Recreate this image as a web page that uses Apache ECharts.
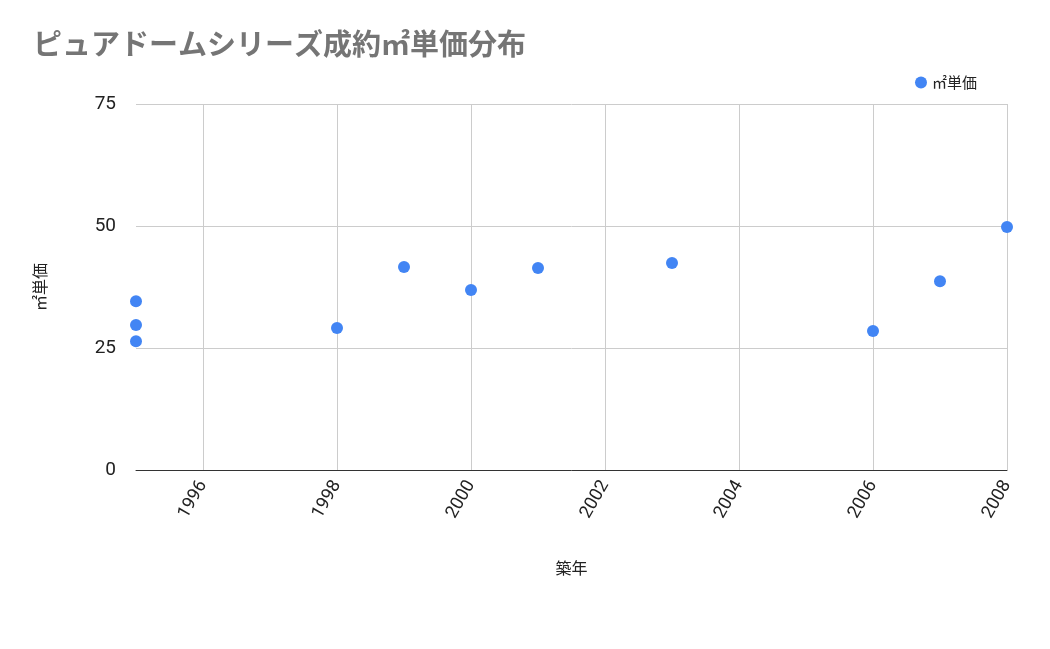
<!DOCTYPE html>
<html><head><meta charset="utf-8">
<script src="https://cdn.jsdelivr.net/npm/echarts@6/dist/echarts.min.js"></script>
<style>html,body{margin:0;background:#fff}#c{width:1050px;height:649px}</style>
</head><body><div id="c"></div>
<script>
var years = [1995, 1995, 1995, 1998, 1999, 2000, 2001, 2003, 2006, 2007, 2008];
var prices = [34.6, 29.7, 26.4, 29.1, 41.6, 36.9, 41.4, 42.4, 28.5, 38.7, 49.8];
var xTicks = [1996, 1998, 2000, 2002, 2004, 2006, 2008];

var pts = [];
for (var i = 0; i < years.length; i++) pts.push([years[i], prices[i]]);

var chart = echarts.init(document.getElementById('c'));
chart.setOption({
  title: {text: 'ピュアドームシリーズ成約㎡単価分布', left: 28, top: 24,
    textStyle: {fontFamily: 'Noto Sans CJK JP', fontSize: 29, fontWeight: 'bold', color: '#757575'}},
  legend: {right: 68, top: 70, icon: 'circle', itemWidth: 12, itemHeight: 12,
    textStyle: {fontFamily: 'Noto Sans CJK JP', fontSize: 15, color: '#222'}},
  grid: {left: 136, right: 43, top: 104, bottom: 179},
  xAxis: {type: 'value', min: 1995, max: 2008, name: '築年', nameLocation: 'middle', nameGap: 90,
    nameTextStyle: {fontFamily: 'Noto Sans CJK JP', fontSize: 16, color: '#222'},
    axisLine: {show: true, lineStyle: {color: '#333'}}, axisTick: {show: false, customValues: xTicks},
    axisLabel: {customValues: xTicks, rotate: 60, fontSize: 18, color: '#222', margin: 12, fontFamily: 'Roboto',
      formatter: function (v) { return String(v); }},
    splitLine: {show: true, lineStyle: {color: '#ccc'}}},
  yAxis: {type: 'value', min: 0, max: 75, interval: 25, name: '㎡単価', nameLocation: 'middle', nameGap: 88,
    nameTextStyle: {fontFamily: 'Noto Sans CJK JP', fontSize: 16, color: '#222'},
    axisLine: {show: false}, axisTick: {show: false},
    axisLabel: {fontSize: 19, color: '#222', margin: 20, fontFamily: 'Roboto'},
    splitLine: {lineStyle: {color: '#ccc'}}},
  series: [{name: '㎡単価', type: 'scatter', data: pts, symbolSize: 12, itemStyle: {color: '#4285f4', opacity: 1}}]
});
</script></body></html>
